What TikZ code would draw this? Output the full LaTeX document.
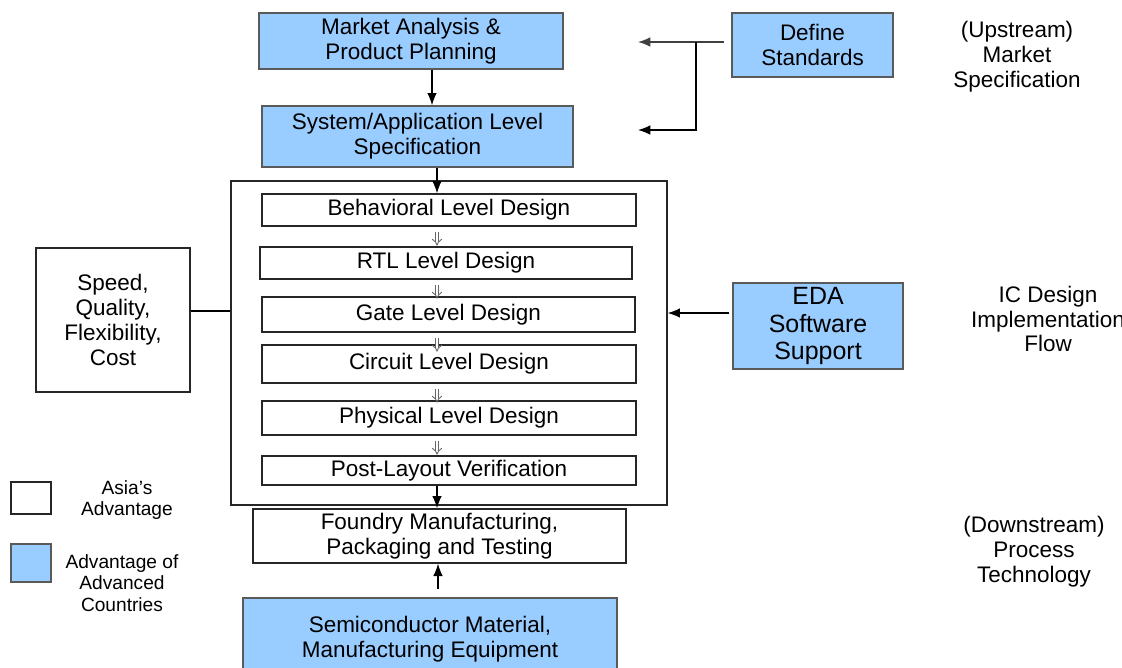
\documentclass[tikz,border=0pt]{standalone}
\usepackage{fontspec}
\setmainfont{Liberation Sans}
\usetikzlibrary{arrows.meta}
\definecolor{advblue}{HTML}{99CCFF}
\definecolor{edgegray}{HTML}{5A5A5A}

\begin{document}
\begin{tikzpicture}[x=0.02cm, y=-0.02cm,
    every node/.style={font=\fontsize{12.8}{14.2}\selectfont, align=center, inner sep=0pt},
    adv/.style={draw=edgegray, fill=advblue, line width=0.8pt},
    asia/.style={draw=black!85, fill=white, line width=0.8pt},
    arr/.style={-{Latex[length=7pt,width=5.5pt]}, line width=0.75pt},
    dblarr/.style={draw=black!60, double=white, double distance=1.5pt, line width=0.5pt, -{Implies}}]
		\useasboundingbox (0,0) rectangle (1122,667);
		\clip (0,0) rectangle (1122,667);
		% upstream
		\node [adv, minimum width=6.08cm, minimum height=1.12cm] (mkt) at (411,41) {Market Analysis \&\\Product Planning};
		\node [adv, minimum width=6.22cm, minimum height=1.22cm] (sys) at (417.5,136.5) {System/Application Level\\Specification};
		\node [adv, minimum width=3.22cm, minimum height=1.28cm] (def) at (812.5,45) {Define\\Standards};
		% design flow
		\node [asia, minimum width=8.72cm, minimum height=6.48cm] (flow) at (449,343) {};
		\node [asia, minimum width=7.48cm, minimum height=0.64cm] (beh) at (449,210) {Behavioral Level Design};
		\node [asia, minimum width=7.44cm, minimum height=0.64cm] (rtl) at (446,263) {RTL Level Design};
		\node [asia, minimum width=7.46cm, minimum height=0.70cm] (gate) at (448.5,314.5) {Gate Level Design};
		\node [asia, minimum width=7.48cm, minimum height=0.76cm] (circ) at (449,364) {Circuit Level Design};
		\node [asia, minimum width=7.48cm, minimum height=0.68cm] (phys) at (449,418) {Physical Level Design};
		\node [asia, minimum width=7.48cm, minimum height=0.58cm] (post) at (449,470.5) {Post-Layout Verification};
		\node [asia, minimum width=3.08cm, minimum height=2.88cm] (spd) at (113,320) {Speed,\\Quality,\\Flexibility,\\Cost};
		\node [adv, minimum width=3.40cm, minimum height=1.72cm, font=\fontsize{14.2}{15.9}\selectfont] (eda) at (818,326) {EDA\\Software\\Support};
		% downstream
		\node [asia, minimum width=7.46cm, minimum height=1.08cm] (fdy) at (439.5,536) {Foundry Manufacturing,\\Packaging and Testing};
		\node [adv, minimum width=7.48cm, minimum height=1.64cm] (semi) at (430,639) {Semiconductor Material,\\Manufacturing Equipment};
		% side labels
		\node (up) at (1017,57) {(Upstream)\\Market\\Specification};
		\node (ic) at (1048,319) {IC Design\\Implementation\\Flow};
		\node (down) at (1034,552) {(Downstream)\\Process\\Technology};
		% legend
		\node [asia, minimum width=0.80cm, minimum height=0.64cm] (keyA) at (31,498) {};
		\node [adv, minimum width=0.80cm, minimum height=0.76cm] (keyB) at (31,563) {};
		\node [font=\fontsize{10.9}{12.3}\selectfont] (keyAtxt) at (127,500) {Asia’s\\Advantage};
		\node [font=\fontsize{10.9}{12.3}\selectfont] (keyBtxt) at (122,583) {Advantage of\\Advanced\\Countries};
		% connectors
		\coordinate (mid) at (432,0);
		\coordinate (axis) at (437,0);
		\draw [arr] (mkt.south -| mid) -- (sys.north -| mid);
		\draw [arr] (sys.south -| axis) -- (beh.north -| axis);
		\foreach \a/\b in {beh/rtl, rtl/gate, gate/circ, circ/phys, phys/post}
			\draw [dblarr] (\a.south -| axis) ++(0,5) -- ++(0,14);
		\draw [arr] (post.south -| axis) -- (fdy.north -| axis);
		\coordinate (semiup) at (438,589);
		\draw [arr] (semiup) -- (semiup |- fdy.south);
		\coordinate (defout) at (724,42);
		\coordinate (split) at (696,42);
		\coordinate (tipA) at (638,42);
		\coordinate (tipB) at (638,130);
		\draw [arr, draw=black!75] (defout) -- (tipA);
		\draw [arr] (split) |- (tipB);
		\coordinate (edaout) at (729,313);
		\draw [arr] (edaout) -- (edaout -| flow.east);
		\coordinate (spdlvl) at (0,311);
		\draw [line width=0.75pt] (spd.east |- spdlvl) -- (flow.west |- spdlvl);
	\end{tikzpicture}
\end{document}
